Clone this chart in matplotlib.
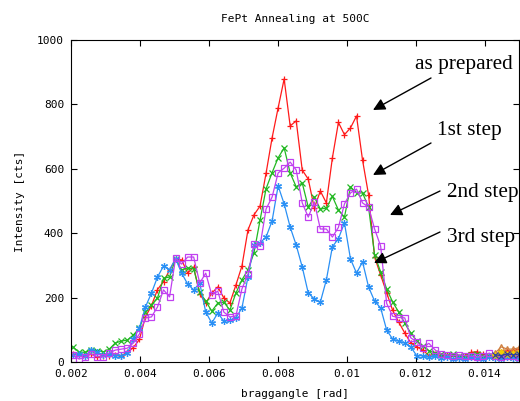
import numpy as np
import matplotlib
matplotlib.use("Agg")
import matplotlib.pyplot as plt

# scan grid (braggangle, rad)
angle = np.round(0.00206 + 0.000175 * np.arange(75), 6)

as_prepared = [25, 22, 20, 25, 15, 20, 18, 22, 20, 30,
               45, 70, 140, 175, 225, 250, 285, 320, 317, 276,
               295, 211, 183, 214, 233, 199, 183, 239, 298, 410,
               457, 484, 586, 696, 789, 879, 733, 749, 596, 568,
               478, 531, 494, 634, 744, 706, 727, 764, 627, 519,
               326, 270, 215, 160, 124, 90, 59, 47, 37, 20,
               25, 20, 22, 18, 15, 20, 30, 32, 25, 20,
               25, 30, 35, 35, 40]
step1 = [46, 31, 30, 37, 35, 31, 40, 59, 65, 68,
         84, 105, 155, 177, 199, 260, 264, 320, 286, 292,
         289, 217, 189, 158, 183, 186, 161, 214, 255, 286,
         339, 440, 538, 588, 634, 665, 587, 544, 556, 481,
         512, 475, 478, 514, 472, 450, 544, 525, 525, 481,
         332, 280, 227, 186, 155, 120, 90, 65, 50, 35,
         28, 25, 22, 25, 20, 18, 22, 25, 20, 18,
         15, 20, 18, 15, 18]
step2 = [22, 9, 15, 25, 16, 16, 28, 37, 40, 43,
         59, 87, 137, 140, 171, 224, 202, 322, 304, 326,
         326, 245, 276, 208, 220, 155, 140, 143, 227, 273,
         365, 360, 475, 512, 587, 602, 621, 596, 494, 450,
         497, 413, 413, 388, 418, 491, 525, 537, 494, 481,
         413, 360, 182, 142, 138, 137, 75, 62, 45, 58,
         38, 25, 22, 20, 22, 20, 18, 15, 18, 28,
         18, 15, 20, 18, 15]
step3 = [22, 25, 19, 37, 30, 22, 25, 20, 19, 28,
         70, 106, 171, 214, 264, 298, 286, 321, 276, 242,
         224, 245, 155, 121, 152, 127, 130, 137, 168, 264,
         362, 370, 388, 438, 547, 491, 419, 363, 295, 214,
         196, 186, 255, 358, 383, 432, 320, 276, 311, 233,
         189, 168, 99, 71, 65, 59, 47, 19, 20, 15,
         18, 12, 15, 10, 12, 8, 15, 12, 10, 15,
         12, 10, 15, 12, 10]

# short extra scans only reaching into the right edge
tail_angle = angle[70:]
tail_orange = [28, 47, 40, 40, 45]
tail_yellow = [22, 31, 25, 28, 30]
tail_navy = [22, 20, 25, 22, 24]

labels = ["as prepared", "1st step", "2nd step", "3rd step"]
# (text left, text centre y, arrow start, arrow tip) in image pixels
label_pos = [(415, 64, (431, 78), (373, 110)),
             (437, 130, (431, 143), (373, 175)),
             (447, 193, (440, 191), (390, 215)),
             (447, 237, (440, 232), (374, 263))]

W, H = 520, 401
fig = plt.figure(figsize=(W / 100, H / 100), dpi=100)
ax = fig.add_axes([71 / W, (H - 362) / H, 448 / W, 322 / H])

mono = "DejaVu Sans Mono"
lw = 0.9
ax.plot(angle, as_prepared, color="#ff1a1a", lw=lw, marker="+", ms=5, mew=0.9)
ax.plot(angle, step1, color="#22b822", lw=lw, marker="x", ms=4, mew=0.9)
ax.plot(angle, step3, color="#2a90f5", lw=lw, marker=(6, 2, 0), ms=5, mew=0.9)
ax.plot(angle, step2, color="#c040f0", lw=lw, marker="s", ms=4, mew=0.9,
        mfc="none")
ax.plot(tail_angle, tail_orange, color="#d08040", lw=lw, marker="^", ms=4,
        mfc="none", mew=0.9)
ax.plot(tail_angle, tail_yellow, color="#f0d000", lw=lw, marker="*", ms=5)
ax.plot(tail_angle, tail_navy, color="#3040a0", lw=lw, marker="x", ms=4, mew=0.9)

ax.set_xlim(0.002, 0.015)
ax.set_ylim(0, 1000)
ax.set_xticks([0.002, 0.004, 0.006, 0.008, 0.01, 0.012, 0.014])
ax.set_xticklabels(["0.002", "0.004", "0.006", "0.008", "0.01", "0.012", "0.014"])
ax.set_yticks([0, 200, 400, 600, 800, 1000])
ax.tick_params(direction="in", length=4, width=0.8, top=True, right=True,
               labelsize=8, pad=5)
for lab in ax.get_xticklabels() + ax.get_yticklabels():
    lab.set_family(mono)
for s in ax.spines.values():
    s.set_linewidth(0.8)

ax.set_title("FePt Annealing at 500C", family=mono, fontsize=8, pad=13)
ax.set_xlabel("braggangle [rad]", family=mono, fontsize=8, labelpad=7)
ax.set_ylabel("Intensity [cts]", family=mono, fontsize=8, labelpad=9)

for text, (tx, ty, start, tip) in zip(labels, label_pos):
    fig.text(tx / W, 1 - ty / H, text, family="Liberation Serif", fontsize=15.3,
             va="center", ha="left")
    ax.annotate("", xy=(tip[0], H - tip[1]), xycoords="figure pixels",
                xytext=(start[0], H - start[1]), textcoords="figure pixels",
                arrowprops=dict(arrowstyle="-|>", color="black", lw=1,
                                mutation_scale=18, shrinkA=0, shrinkB=0),
                annotation_clip=False)

fig.savefig("out.png", dpi=100)
